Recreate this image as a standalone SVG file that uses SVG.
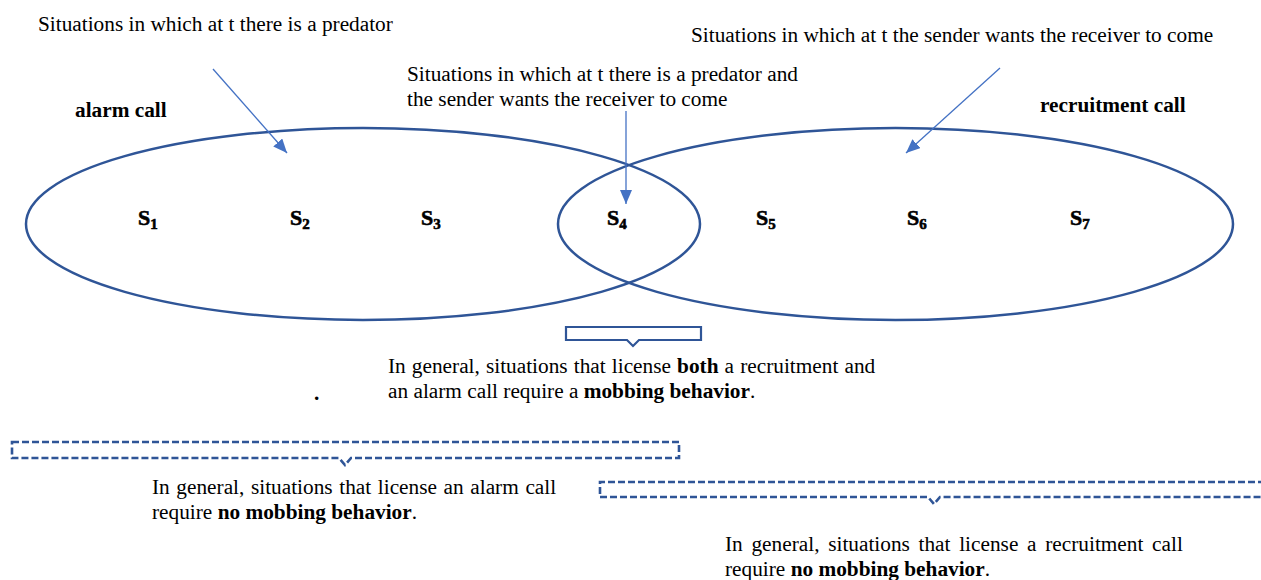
<svg xmlns="http://www.w3.org/2000/svg" width="1261" height="580" viewBox="0 0 1261 580">
<style>
  .t { font-family: "Liberation Serif", "Times New Roman", serif; font-size: 21.3px; fill: #000; }
  .b { font-weight: bold; }
  .s { font-family: "Liberation Serif", "Times New Roman", serif; font-size: 22px; font-weight: bold; fill: #000; stroke: #000; stroke-width: 0.6; }
  .sub { font-size: 15px; }
  .ell { fill: none; stroke: #2F5597; stroke-width: 2.5; }
  .arr { stroke: #4472C4; stroke-width: 1.3; fill: none; }
  .brk { fill: none; stroke: #2F5597; stroke-width: 2.2; }
  .dash { stroke-width: 2.6; stroke-dasharray: 7 3; }
</style>
<defs>
  <marker id="ah" viewBox="0 0 14 12" refX="14" refY="6" markerWidth="14" markerHeight="12" markerUnits="userSpaceOnUse" orient="auto">
    <path d="M0,0 L14,6 L0,12 Z" fill="#4472C4"/>
  </marker>
</defs>

<g id="alarm-set">
  <ellipse class="ell" cx="363" cy="224" rx="337" ry="96"/>
  <text class="t b" x="75" y="117">alarm call</text>
</g>
<g id="recruitment-set">
  <ellipse class="ell" cx="895.5" cy="224" rx="337.5" ry="96"/>
  <text class="t b" x="1040" y="112">recruitment call</text>
</g>

<g id="situations">
  <text class="s" x="138" y="225">S<tspan class="sub" dy="4">1</tspan></text>
  <text class="s" x="290" y="225">S<tspan class="sub" dy="4">2</tspan></text>
  <text class="s" x="421" y="225">S<tspan class="sub" dy="4">3</tspan></text>
  <text class="s" x="607" y="225">S<tspan class="sub" dy="4">4</tspan></text>
  <text class="s" x="756" y="225">S<tspan class="sub" dy="4">5</tspan></text>
  <text class="s" x="907" y="225">S<tspan class="sub" dy="4">6</tspan></text>
  <text class="s" x="1070" y="225">S<tspan class="sub" dy="4">7</tspan></text>
</g>

<g id="label-predator">
  <text class="t" x="38" y="31">Situations in which at t there is a predator</text>
</g>
<g id="label-sender">
  <text class="t" x="691" y="42">Situations in which at t the sender wants the receiver to come</text>
</g>
<g id="label-both">
  <text class="t" x="407" y="81">Situations in which at t there is a predator and</text>
  <text class="t" x="407" y="106">the sender wants the receiver to come</text>
</g>

<g id="connectors">
  <line class="arr" x1="213" y1="69" x2="287" y2="153" marker-end="url(#ah)"/>
  <line class="arr" x1="1000" y1="68" x2="906" y2="153" marker-end="url(#ah)"/>
  <line class="arr" x1="626" y1="111" x2="626" y2="204" marker-end="url(#ah)"/>
</g>

<g id="callout-both">
  <path class="brk" d="M566,327 H701 V340 H639 L633,346 L627,340 H566 Z"/>
  <text class="t" x="388" y="373" word-spacing="0.8">In general, situations that license <tspan class="b">both</tspan> a recruitment and</text>
  <text class="t" x="388" y="398">an alarm call require a <tspan class="b">mobbing behavior</tspan>.</text>
</g>

<g id="dot">
  <text class="t b" x="314" y="400">.</text>
</g>

<g id="callout-alarm">
  <path class="brk dash" d="M12,442 H679 V458 H351 L345,465 L339,458 H12 Z"/>
  <text class="t" x="152" y="494" word-spacing="1.3">In general, situations that license an alarm call</text>
  <text class="t" x="152" y="519">require <tspan class="b">no mobbing behavior</tspan>.</text>
</g>

<g id="callout-recruitment">
  <path class="brk dash" d="M1275,482 H600 V497 H928 L934,504 L940,497 H1275"/>
  <text class="t" x="725" y="551" word-spacing="3.4">In general, situations that license a recruitment call</text>
  <text class="t" x="725" y="576">require <tspan class="b">no mobbing behavior</tspan>.</text>
</g>
</svg>
